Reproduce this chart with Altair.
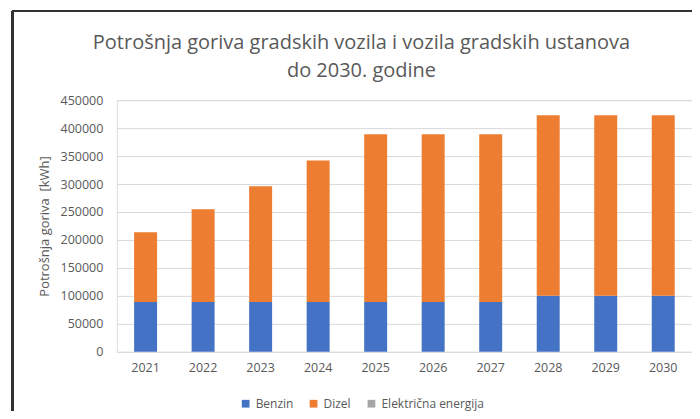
import altair as alt
import pandas as pd

years = ["2021", "2022", "2023", "2024", "2025", "2026", "2027", "2028", "2029", "2030"]
benzin = [89000, 89000, 89000, 89000, 89000, 89000, 89000, 100000, 100000, 100000]
dizel = [125000, 166000, 207000, 253000, 300000, 300000, 300000, 323000, 323000, 323000]
elektricna = [0, 0, 0, 0, 0, 0, 0, 0, 0, 0]
series = ["Benzin", "Dizel", "Električna energija"]
colors = ["#4472C4", "#ED7D31", "#A5A5A5"]
y_ticks = [0, 50000, 100000, 150000, 200000, 250000, 300000, 350000, 400000, 450000]

rows = []
for i, yr in enumerate(years):
    for k, (name, vals) in enumerate(zip(series, [benzin, dizel, elektricna])):
        rows.append({"year": yr, "fuel": name, "value": vals[i], "order": k})
df = pd.DataFrame(rows)

FONT = "Open Sans"
GRAY = "#595959"

bars = alt.Chart(df).mark_bar(size=23).encode(
    x=alt.X(
        "year:N", sort=years,
        scale=alt.Scale(paddingInner=0.6, paddingOuter=0.3),
        axis=alt.Axis(title=None, labelAngle=0, labelPadding=10, ticks=False, domain=False,
                      labelFontSize=12.5, labelColor=GRAY, labelFont=FONT, grid=False),
    ),
    y=alt.Y(
        "value:Q", stack="zero",
        scale=alt.Scale(domain=[0, 450000], nice=False),
        axis=alt.Axis(values=y_ticks, title="Potrošnja goriva\u00a0 [kWh]", format="d",
                      labelFontSize=12.5, labelColor=GRAY, labelFont=FONT, labelPadding=14,
                      ticks=False, domain=False, gridColor="#d9d9d9", gridWidth=1,
                      titleFont=FONT, titleFontSize=13, titleFontWeight="normal",
                      titleColor=GRAY, titlePadding=9),
    ),
    color=alt.Color(
        "fuel:N",
        scale=alt.Scale(domain=series, range=colors),
        legend=alt.Legend(title=None, orient="none", legendX=123, legendY=298,
                          direction="horizontal", symbolType="square", symbolSize=60,
                          labelFont=FONT, labelFontSize=12, labelColor=GRAY,
                          columnPadding=14, symbolStrokeWidth=0),
    ),
    order=alt.Order("order:Q"),
)

frame_left = alt.Chart(df).mark_rule(color="#333333", strokeWidth=1.5).encode(
    x=alt.value(-104.5), y=alt.value(-89), y2=alt.value(315)
)
frame_top = alt.Chart(df).mark_rule(color="#333333", strokeWidth=1.5).encode(
    x=alt.value(-104.5), x2=alt.value(576), y=alt.value(-89)
)

chart = alt.layer(bars, frame_left, frame_top).properties(
    width=576, height=252,
    autosize=alt.AutoSizeParams(type="none"),
    padding={"left": 109, "top": 92, "right": 0, "bottom": 59},
    title=alt.TitleParams(
        text=["Potrošnja goriva gradskih vozila i vozila gradskih ustanova", "do 2030. godine"],
        font=FONT, fontSize=20, fontWeight="normal", color=GRAY,
        anchor="middle", frame="group", dx=-43, offset=0, dy=71, lineHeight=28,
    ),
).configure_view(stroke=None).configure(background="white")

chart.save("out.html", embed_options={"renderer": "svg", "actions": False})
